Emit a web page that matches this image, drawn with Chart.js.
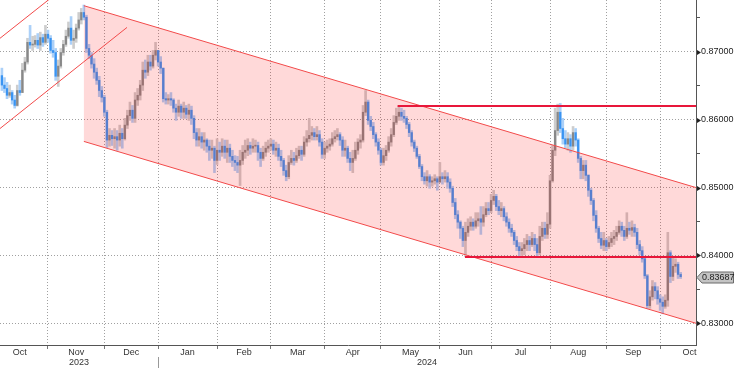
<!DOCTYPE html>
<html>
<head>
<meta charset="utf-8">
<script src="https://cdn.jsdelivr.net/npm/chart.js@4.4.1/dist/chart.umd.min.js"></script>
<style>
  html, body { margin: 0; padding: 0; background: #fff; }
  #wrap { width: 735px; height: 368px; }
</style>
</head>
<body>
<div id="wrap"><canvas id="chart" width="735" height="368"></canvas></div>
<script>
// Daily EUR/GBP candles, one entry per trading day (weekday), early Oct 2023 .. Oct 2024
// Open of each day = previous close (FX trades round the clock)
const firstOpen = 0.8665;

const closes = [
  .8651,.8646,.8636,.8640,.8629,.8621,.8643,.8640,.8673,.8685,.8714,.8710,.8711,.8717,.8710,.8721,.8714,.8726,
  .8720,.8702,.8699,.8664,.8679,.8699,.8711,.8723,.8735,.8717,.8720,.8735,.8747,.8758,.8751,.8705,.8695,.8682,.8670,.8658,.8643,.8633,
  .8611,.8570,.8577,.8572,.8575,.8570,.8580,.8572,.8592,.8606,.8614,.8602,.8629,.8636,.8651,.8673,.8670,.8685,.8679,.8695,.8702,
  .8685,.8676,.8631,.8629,.8631,.8629,.8617,.8611,.8620,.8611,.8617,.8608,.8614,.8602,.8581,.8570,.8575,.8567,.8570,.8561,.8555,.8558,.8540,
  .8555,.8552,.8561,.8552,.8558,.8546,.8540,.8537,.8533,.8540,.8552,.8555,.8562,.8558,.8561,.8562,.8552,.8543,.8552,.8558,.8561,
  .8564,.8555,.8558,.8546,.8540,.8525,.8516,.8537,.8543,.8540,.8547,.8555,.8549,.8567,.8572,.8577,.8581,.8575,.8578,.8567,.8549,
  .8558,.8561,.8564,.8572,.8575,.8578,.8570,.8555,.8558,.8543,.8537,.8543,.8555,.8567,.8570,.8611,.8626,.8599,.8590,.8578,.8567,.8555,
  .8537,.8547,.8555,.8567,.8578,.8596,.8605,.8611,.8605,.8602,.8593,.8581,.8567,.8558,.8546,.8531,.8516,.8510,.8516,.8508,.8510,.8513,.8508,
  .8516,.8513,.8516,.8508,.8499,.8478,.8460,.8449,.8440,.8422,.8434,.8443,.8449,.8443,.8451,.8454,.8449,.8460,.8469,.8466,
  .8481,.8487,.8472,.8466,.8469,.8457,.8449,.8440,.8434,.8422,.8413,.8407,.8410,.8416,.8422,.8416,.8425,.8416,.8404,.8428,.8440,.8431,.8446,
  .8510,.8555,.8584,.8611,.8587,.8572,.8564,.8572,.8561,.8581,.8570,.8543,.8525,.8533,.8518,.8496,.8481,.8459,.8440,.8425,.8415,.8422,
  .8413,.8419,.8425,.8428,.8434,.8443,.8437,.8428,.8440,.8437,.8441,.8434,.8416,.8407,.8395,.8370,.8326,.8339,.8354,.8348,.8336,
  .8331,.8325,.8334,.8404,.8369,.8384,.8387,.8372,.83687
];

const highs = [
  .8676,.8662,.8655,.8651,.8643,.8636,.8651,.8658,.8683,.8692,.8720,.8739,.8723,.8724,.8727,.8729,.8726,.8739,
  .8732,.8724,.8717,.8705,.8688,.8705,.8717,.8732,.8744,.8752,.8732,.8741,.8758,.8764,.8769,.8754,.8711,.8699,.8690,.8676,.8664,.8649,
  .8636,.8614,.8587,.8584,.8587,.8584,.8592,.8587,.8602,.8614,.8626,.8621,.8640,.8646,.8658,.8685,.8688,.8695,.8695,.8702,.8714,
  .8702,.8693,.8676,.8640,.8637,.8640,.8631,.8623,.8629,.8623,.8626,.8621,.8623,.8620,.8606,.8587,.8587,.8581,.8581,.8572,.8570,.8570,.8561,
  .8572,.8567,.8572,.8570,.8570,.8564,.8555,.8547,.8546,.8555,.8562,.8570,.8572,.8567,.8572,.8570,.8567,.8558,.8561,.8567,.8570,
  .8572,.8570,.8567,.8564,.8555,.8543,.8533,.8547,.8555,.8552,.8558,.8561,.8561,.8575,.8584,.8602,.8590,.8587,.8590,.8584,.8572,
  .8567,.8570,.8572,.8581,.8584,.8587,.8581,.8575,.8570,.8561,.8552,.8555,.8567,.8572,.8578,.8621,.8643,.8629,.8605,.8596,.8581,.8572,
  .8558,.8558,.8562,.8575,.8587,.8606,.8617,.8620,.8617,.8614,.8605,.8596,.8584,.8570,.8561,.8549,.8534,.8522,.8525,.8519,.8516,.8519,.8516,
  .8537,.8522,.8525,.8522,.8513,.8502,.8484,.8466,.8451,.8443,.8449,.8454,.8457,.8454,.8463,.8463,.8472,.8472,.8478,.8478,
  .8490,.8496,.8490,.8481,.8478,.8472,.8463,.8454,.8446,.8437,.8428,.8419,.8419,.8425,.8431,.8428,.8434,.8431,.8425,.8443,.8449,.8449,.8463,
  .8518,.8562,.8617,.8623,.8624,.8602,.8584,.8581,.8578,.8590,.8587,.8572,.8546,.8540,.8540,.8519,.8499,.8484,.8466,.8443,.8434,.8434,
  .8425,.8428,.8434,.8437,.8443,.8451,.8449,.8443,.8463,.8449,.8451,.8446,.8440,.8422,.8413,.8398,.8372,.8348,.8363,.8360,.8354,
  .8342,.8339,.8342,.8434,.8407,.8398,.8395,.8390,.8375
];

const lows = [
  .8643,.8640,.8631,.8633,.8623,.8617,.8620,.8636,.8640,.8670,.8682,.8705,.8702,.8707,.8705,.8702,.8708,.8711,
  .8714,.8698,.8692,.8658,.8649,.8676,.8695,.8708,.8720,.8711,.8705,.8714,.8732,.8741,.8747,.8699,.8690,.8676,.8661,.8652,.8634,.8626,
  .8605,.8559,.8561,.8562,.8558,.8555,.8561,.8558,.8570,.8587,.8599,.8596,.8596,.8621,.8629,.8643,.8661,.8665,.8673,.8676,.8688,
  .8679,.8668,.8626,.8623,.8623,.8621,.8611,.8599,.8605,.8602,.8602,.8602,.8599,.8593,.8572,.8561,.8561,.8558,.8555,.8552,.8540,.8543,.8522,
  .8534,.8540,.8546,.8543,.8537,.8537,.8531,.8525,.8522,.8503,.8534,.8543,.8547,.8549,.8552,.8552,.8540,.8531,.8540,.8546,.8552,
  .8555,.8549,.8546,.8540,.8531,.8518,.8510,.8513,.8534,.8533,.8537,.8543,.8540,.8546,.8561,.8567,.8570,.8570,.8570,.8561,.8543,
  .8543,.8552,.8555,.8561,.8567,.8570,.8562,.8546,.8546,.8537,.8525,.8522,.8540,.8549,.8558,.8567,.8606,.8593,.8584,.8572,.8561,.8549,
  .8533,.8533,.8540,.8552,.8561,.8575,.8593,.8599,.8599,.8596,.8587,.8575,.8561,.8553,.8543,.8528,.8510,.8505,.8502,.8499,.8502,.8505,.8496,
  .8508,.8505,.8508,.8499,.8493,.8472,.8454,.8440,.8425,.8413,.8398,.8428,.8437,.8437,.8440,.8443,.8431,.8443,.8457,.8460,
  .8463,.8475,.8466,.8460,.8457,.8451,.8443,.8434,.8428,.8416,.8407,.8398,.8400,.8401,.8407,.8407,.8413,.8407,.8398,.8401,.8422,.8425,.8425,
  .8440,.8508,.8547,.8577,.8581,.8564,.8558,.8555,.8552,.8555,.8561,.8537,.8513,.8513,.8510,.8487,.8475,.8451,.8434,.8419,.8410,.8407,
  .8407,.8410,.8413,.8416,.8422,.8431,.8428,.8422,.8425,.8431,.8428,.8428,.8410,.8401,.8390,.8366,.8322,.8322,.8334,.8336,.8328,
  .8319,.8314,.8322,.8325,.8360,.8363,.8375,.8366,.8366
];

// month axis: index of the first trading day of each month (index 0 = first candle)
const monthLabels = ['Oct', 'Nov', 'Dec', 'Jan', 'Feb', 'Mar', 'Apr', 'May', 'Jun', 'Jul', 'Aug', 'Sep', 'Oct'];
const monthStarts = [-4, 18, 40, 61, 84, 105, 126, 148, 171, 191, 214, 236, 257, 280];
const yearLabels = ['2023', '2024'];
const yearStarts = [61]; // Jan 2024

const yMajor = [0.83, 0.84, 0.85, 0.86, 0.87];
const yMinor = [0.835, 0.845, 0.855, 0.865, 0.875];

// drawn studies, as [index, price] end points
const upChannelTop = [[-0.74, 0.8720], [20, 0.8782]];
const upChannelBottom = [[-0.74, 0.8587], [48.85, 0.8736]];
const downChannelTop = [[32, 0.8768], [271, 0.8500]];
const downChannelBottom = [[32, 0.8568], [271, 0.8300]];
const levelLines = [[154.5, 0.8620], [180.8, 0.8397]];

const xMin = -0.74, xMax = 271;
const yMin = 0.8268, yMax = 0.87764;

const opens = closes.map((c, i) => i === 0 ? firstOpen : closes[i - 1]);
const isUp = i => closes[i] >= opens[i];

const bodyData = closes.map((c, i) => ({ x: i, y: [opens[i], c] }));
const wickData = closes.map((c, i) => ({ x: i, y: [lows[i], highs[i]] }));

const FONT = '9px "Liberation Sans", Arial, sans-serif';
const isMajor = v => Math.abs(v * 100 - Math.round(v * 100)) < 1e-6;

const studies = {
  id: 'studies',
  afterDatasetsDraw(chart) {
    const { ctx, chartArea: a, scales: { x, y } } = chart;
    const pt = p => [x.getPixelForValue(p[0]), y.getPixelForValue(p[1])];
    ctx.save();
    ctx.beginPath();
    ctx.rect(a.left, a.top, a.right - a.left, a.bottom - a.top);
    ctx.clip();

    // shaded falling channel
    const q = [pt(downChannelTop[0]), pt(downChannelTop[1]), pt(downChannelBottom[1]), pt(downChannelBottom[0])];
    ctx.fillStyle = 'rgba(255, 0, 0, 0.15)';
    ctx.beginPath();
    ctx.moveTo(q[0][0], q[0][1]);
    q.slice(1).forEach(p => ctx.lineTo(p[0], p[1]));
    ctx.closePath();
    ctx.fill();

    ctx.strokeStyle = '#f24a4a';
    ctx.lineWidth = 1;
    [upChannelTop, upChannelBottom, downChannelTop, downChannelBottom].forEach(seg => {
      const p0 = pt(seg[0]), p1 = pt(seg[1]);
      ctx.beginPath();
      ctx.moveTo(p0[0], p0[1]);
      ctx.lineTo(p1[0], p1[1]);
      ctx.stroke();
    });

    ctx.strokeStyle = '#e8173a';
    ctx.lineWidth = 2;
    levelLines.forEach(l => {
      const yy = Math.round(y.getPixelForValue(l[1]));
      ctx.beginPath();
      ctx.moveTo(x.getPixelForValue(l[0]), yy);
      ctx.lineTo(a.right, yy);
      ctx.stroke();
    });
    ctx.restore();
  },
  afterDraw(chart) {
    const { ctx, chartArea: a, scales: { x, y } } = chart;
    ctx.save();
    // arrow markers on major price ticks
    ctx.fillStyle = '#222';
    yMajor.forEach(v => {
      const yy = Math.round(y.getPixelForValue(v)) + 0.5;
      ctx.beginPath();
      ctx.moveTo(a.right + 1, yy - 2.5);
      ctx.lineTo(a.right + 5, yy);
      ctx.lineTo(a.right + 1, yy + 2.5);
      ctx.closePath();
      ctx.fill();
    });

    // last price tag
    const last = closes[closes.length - 1];
    const ly = Math.round(y.getPixelForValue(last)) + 0.5;
    ctx.beginPath();
    ctx.moveTo(a.right + 1, ly);
    ctx.lineTo(a.right + 6, ly - 5.5);
    ctx.lineTo(733.5, ly - 5.5);
    ctx.lineTo(733.5, ly + 5.5);
    ctx.lineTo(a.right + 6, ly + 5.5);
    ctx.closePath();
    ctx.fillStyle = '#c4c4c4';
    ctx.fill();
    ctx.strokeStyle = '#6a6a6a';
    ctx.lineWidth = 1;
    ctx.stroke();
    ctx.fillStyle = '#222';
    ctx.font = FONT;
    ctx.textAlign = 'left';
    ctx.textBaseline = 'middle';
    ctx.fillText(last.toFixed(5), a.right + 6, ly + 0.5);

    // month and year labels under the axis
    ctx.fillStyle = '#333';
    ctx.textAlign = 'center';
    monthLabels.forEach((m, i) => {
      const mid = (monthStarts[i] + monthStarts[i + 1]) / 2;
      ctx.fillText(m, x.getPixelForValue(mid), a.bottom + 8);
    });
    const bounds = [xMin, ...yearStarts, xMax];
    yearLabels.forEach((yr, i) => {
      ctx.fillText(yr, x.getPixelForValue((bounds[i] + bounds[i + 1]) / 2), a.bottom + 18);
    });
    ctx.strokeStyle = '#999';
    yearStarts.forEach(v => {
      const xx = Math.round(x.getPixelForValue(v)) + 0.5;
      ctx.beginPath();
      ctx.moveTo(xx, a.bottom + 12);
      ctx.lineTo(xx, 368);
      ctx.stroke();
    });
    ctx.restore();
  }
};

new Chart(document.getElementById('chart'), {
  type: 'bar',
  data: {
    datasets: [
      {
        label: 'body',
        data: bodyData,
        backgroundColor: ctx => isUp(ctx.dataIndex) ? '#888888' : '#3a94f2',
        barThickness: 1.6,
        minBarLength: 1,
        grouped: false,
        borderWidth: 0,
        order: 0
      },
      {
        label: 'wick',
        data: wickData,
        backgroundColor: ctx => isUp(ctx.dataIndex) ? '#cdcdcd' : '#abd0f8',
        barThickness: 2,
        grouped: false,
        borderWidth: 0,
        order: 1
      }
    ]
  },
  options: {
    responsive: false,
    animation: false,
    devicePixelRatio: 1,
    layout: { padding: 0 },
    plugins: { legend: { display: false }, tooltip: { enabled: false } },
    scales: {
      x: {
        type: 'linear',
        min: xMin,
        max: xMax,
        offset: false,
        afterBuildTicks: s => { s.ticks = monthStarts.filter(v => v > xMin && v < xMax).map(v => ({ value: v })); },
        afterFit: s => { s.height = 23; s.paddingLeft = 0; s.paddingRight = 0; },
        ticks: { display: false },
        grid: { offset: false, color: '#a0a0a0', tickLength: 4, tickColor: '#777' },
        border: { color: '#555', dash: [1, 2] }
      },
      y: {
        type: 'linear',
        position: 'right',
        min: yMin,
        max: yMax,
        afterBuildTicks: s => { s.ticks = [...yMajor, ...yMinor].sort((p, q) => p - q).map(v => ({ value: v })); },
        afterFit: s => { s.width = 39; s.paddingTop = 0; s.paddingBottom = 0; },
        ticks: {
          callback: v => isMajor(v) ? v.toFixed(5) : '',
          font: { family: '"Liberation Sans", Arial, sans-serif', size: 9 },
          color: '#222',
          padding: 1
        },
        grid: {
          color: ctx => ctx.tick && isMajor(ctx.tick.value) ? '#a0a0a0' : 'rgba(0,0,0,0)',
          tickLength: 4,
          tickColor: ctx => ctx.tick && isMajor(ctx.tick.value) ? 'rgba(0,0,0,0)' : '#555'
        },
        border: { color: '#555', dash: [1, 2] }
      }
    }
  },
  plugins: [studies]
});
</script>
</body>
</html>
